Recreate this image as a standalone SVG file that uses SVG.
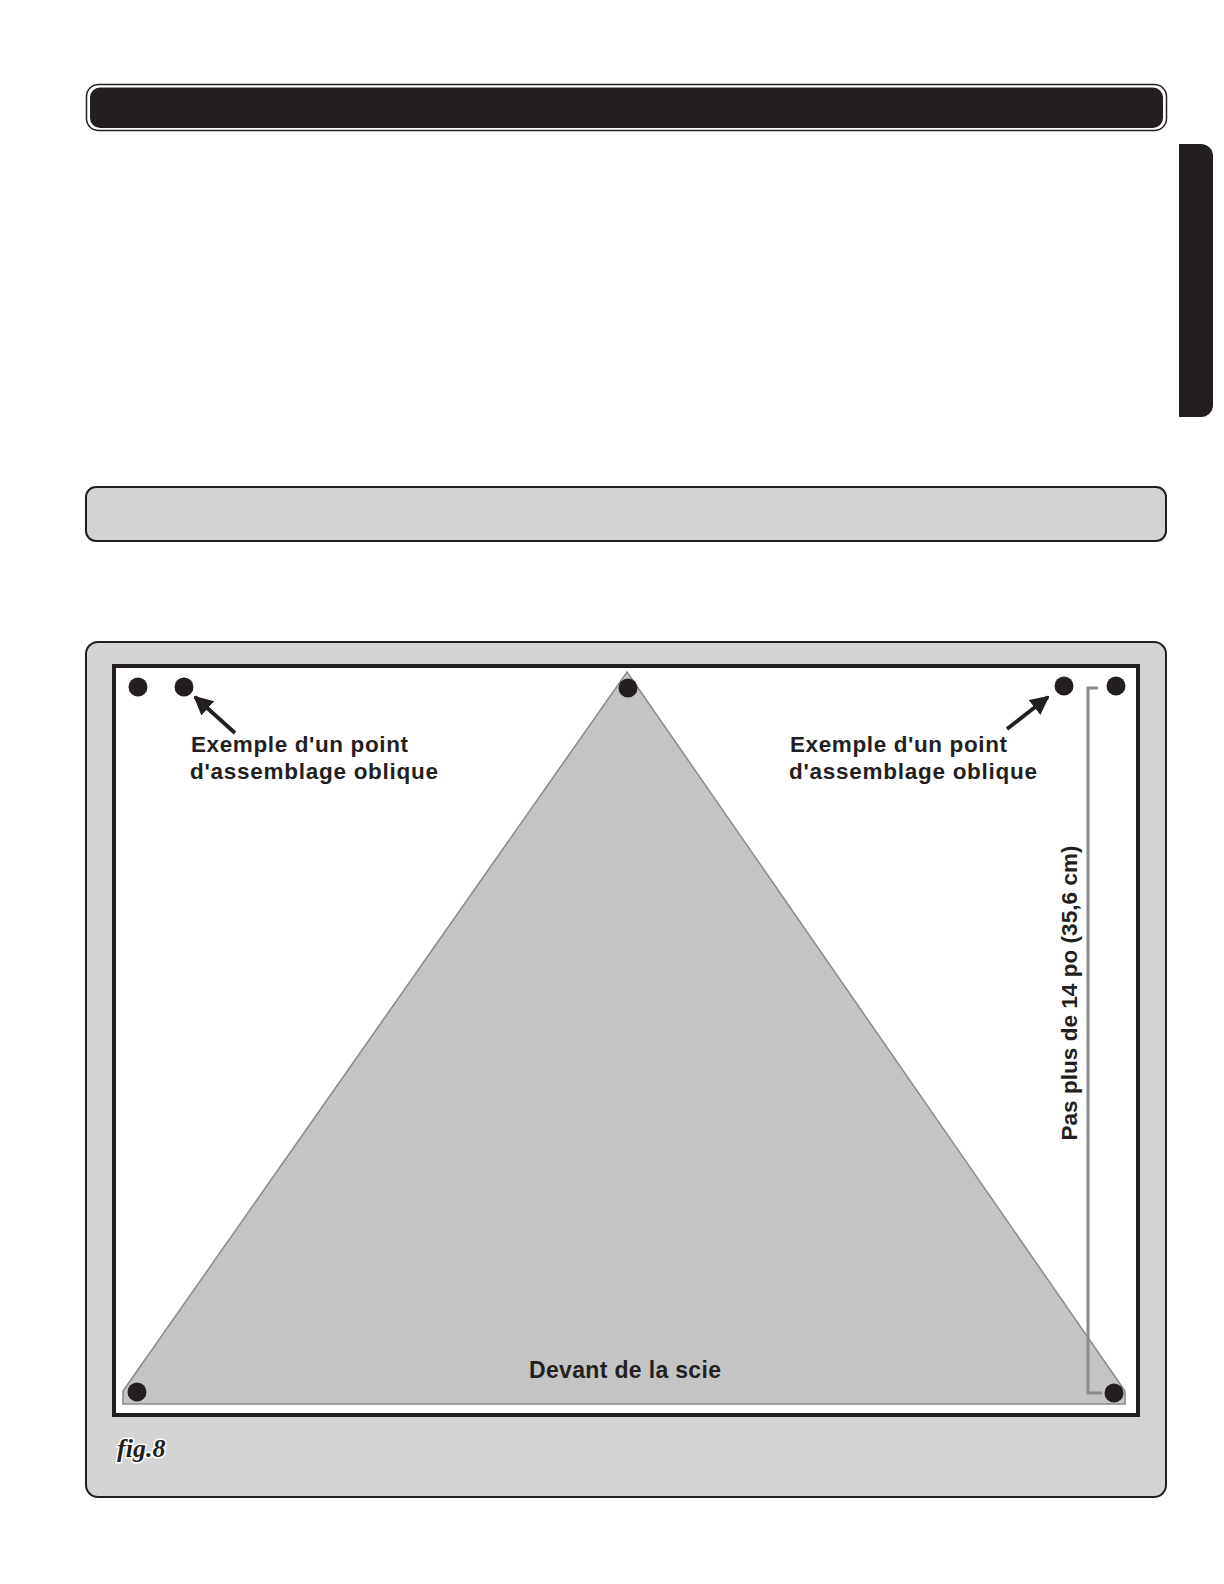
<svg xmlns="http://www.w3.org/2000/svg" width="1224" height="1584" viewBox="0 0 1224 1584">
<defs>
<style>
.lbl{font-family:"Liberation Sans",Arial,sans-serif;font-weight:bold;fill:#231f20}
.dot{fill:#231f20}
.arrow{stroke:#231f20;stroke-width:3.8;fill:none}
.dim{stroke:#8a8a8a;stroke-width:3;fill:none}
</style>
<marker id="ah" viewBox="0 0 10 10" refX="9" refY="5" markerWidth="5" markerHeight="5" orient="auto" markerUnits="strokeWidth">
<path d="M0,0 L10,5 L0,10 Z" fill="#231f20"/>
</marker>
</defs>
<rect width="1224" height="1584" fill="#ffffff"/>

<g id="header-bar">
<rect x="86.5" y="84.5" width="1080" height="46" rx="12" fill="#ffffff" stroke="#231f20" stroke-width="1.5"/>
<rect x="90" y="87.5" width="1073" height="40.5" rx="10" fill="#231f20"/>
</g>

<g id="side-tab">
<path d="M1179,144 H1201 A12,12 0 0 1 1213,156 V405 A12,12 0 0 1 1201,417 H1179 Z" fill="#231f20"/>
</g>

<g id="section-bar">
<rect x="86" y="487" width="1080" height="54" rx="10" fill="#d3d3d3" stroke="#231f20" stroke-width="2"/>
</g>

<g id="figure-panel">
<rect x="86" y="642" width="1080" height="855" rx="12" fill="#d4d4d4" stroke="#231f20" stroke-width="2"/>
<rect x="114" y="666" width="1024" height="749" fill="#ffffff" stroke="#231f20" stroke-width="4"/>
</g>

<g id="saw-triangle">
<path d="M627,672 L1125,1391 L1125,1404 L123,1404 L123,1391 Z" fill="#c4c4c4" stroke="#8a8a8a" stroke-width="1.5"/>
</g>

<g id="points">
<circle class="dot" cx="138" cy="687" r="9.5"/>
<circle class="dot" cx="184" cy="687" r="9.5"/>
<circle class="dot" cx="628" cy="688" r="9.5"/>
<circle class="dot" cx="1064" cy="686" r="9.5"/>
<circle class="dot" cx="1116" cy="686" r="9.5"/>
<circle class="dot" cx="137" cy="1392" r="9.5"/>
<circle class="dot" cx="1114" cy="1393" r="9.5"/>
</g>

<g id="connectors">
<line class="arrow" x1="235" y1="733" x2="195" y2="697" marker-end="url(#ah)"/>
<line class="arrow" x1="1007" y1="729" x2="1048" y2="697" marker-end="url(#ah)"/>
<path class="dim" d="M1098,688 H1088 V1393 H1102"/>
</g>

<g id="label-left">
<text class="lbl" x="191" y="752" font-size="22.5" textLength="217" lengthAdjust="spacing">Exemple d'un point</text>
<text class="lbl" x="190" y="779" font-size="22.5" textLength="248" lengthAdjust="spacing">d'assemblage oblique</text>
</g>

<g id="label-right">
<text class="lbl" x="790" y="752" font-size="22.5" textLength="217" lengthAdjust="spacing">Exemple d'un point</text>
<text class="lbl" x="789" y="779" font-size="22.5" textLength="248" lengthAdjust="spacing">d'assemblage oblique</text>
</g>

<g id="label-dimension">
<text class="lbl" transform="translate(1077,993) rotate(-90)" x="0" y="0" font-size="22.5" text-anchor="middle" textLength="295" lengthAdjust="spacing">Pas plus de 14 po (35,6 cm)</text>
</g>

<g id="label-front">
<text class="lbl" x="529" y="1378" font-size="23" textLength="192" lengthAdjust="spacing">Devant de la scie</text>
</g>

<g id="fig-label">
<text x="117" y="1457" font-family="'Liberation Serif','Times New Roman',serif" font-weight="bold" font-style="italic" font-size="26" fill="#231f20" stroke="#ffffff" stroke-width="3" paint-order="stroke">fig.8</text>
</g>
</svg>
